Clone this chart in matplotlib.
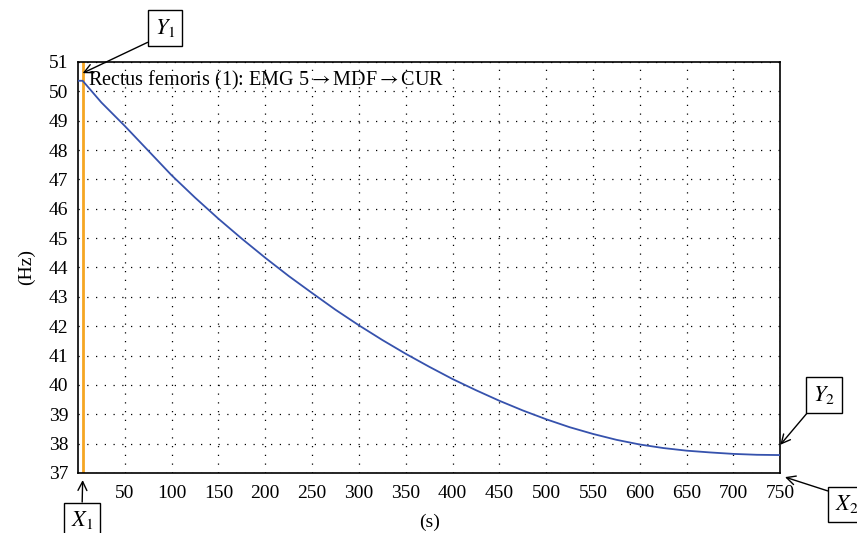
import matplotlib
matplotlib.use("Agg")
import matplotlib.pyplot as plt

plt.rcParams['font.family'] = ['Liberation Serif', 'DejaVu Serif']
plt.rcParams['mathtext.fontset'] = 'stix'

# mdf curve
t_s = [0, 5, 25, 50, 75, 100, 125, 150, 175, 200, 225, 250, 275, 300, 325, 350, 375,
       400, 425, 450, 475, 500, 525, 550, 575, 600, 625, 650, 675, 700, 725, 750]
mdf_hz = [50.36, 50.36, 49.62, 48.82, 47.98, 47.14, 46.38, 45.66, 44.98, 44.33, 43.71,
          43.13, 42.56, 42.03, 41.53, 41.06, 40.62, 40.2, 39.82, 39.46, 39.13, 38.83,
          38.56, 38.33, 38.13, 37.97, 37.85, 37.76, 37.70, 37.65, 37.62, 37.61]

cursor_x = 5
x_ticks = list(range(50, 751, 50))
y_ticks = list(range(37, 52))

fig = plt.figure(figsize=(8.57, 5.33), dpi=100)
ax = fig.add_axes([0.0910, 0.1126, 0.8195, 0.7711])

ax.plot(t_s, mdf_hz, color='#3652ad', lw=1.3, zorder=3)
ax.axvline(cursor_x, color='#f5a623', lw=2, zorder=2)

ax.set_xlim(0, 750)
ax.set_ylim(37, 51)
ax.set_xticks(x_ticks)
ax.set_yticks(y_ticks)
ax.tick_params(length=0, labelsize=14)
ax.tick_params(axis='x', pad=9)
ax.tick_params(axis='y', pad=7)
ax.grid(True, color='black', linestyle=(0, (1, 6)), lw=0.9)
for s in ax.spines.values():
    s.set_linewidth(1.2)

ax.set_xlabel('(s)', fontsize=14, labelpad=8)
ax.set_ylabel('(Hz)', fontsize=14, labelpad=10)
ax.text(0.014, 0.982, r'Rectus femoris (1): EMG 5$\rightarrow$MDF$\rightarrow$CUR',
        transform=ax.transAxes, fontsize=14.5, va='top', ha='left')

box = dict(boxstyle='square,pad=0.3', fc='white', ec='black', lw=1)
arr = dict(arrowstyle='->', color='black', lw=1, shrinkA=0, shrinkB=0)

def mark(txt, xy, pos, rel):
    a = dict(arr)
    a['relpos'] = rel
    ax.annotate(txt, xy=xy, xytext=pos, textcoords='figure fraction',
                fontsize=16, ha='center', va='center', bbox=box,
                arrowprops=a, annotation_clip=False)

mark(r'$Y_1$', (cursor_x, 50.62), (0.1925, 0.9475), (0, 0))
mark(r'$X_1$', (cursor_x, 36.76), (0.0957, 0.024), (0.5, 1))
mark(r'$Y_2$', (750, 37.96), (0.9615, 0.259), (0, 0))
mark(r'$X_2$', (755, 36.86), (0.988, 0.054), (0, 1))

fig.savefig('out.png', dpi=100)
